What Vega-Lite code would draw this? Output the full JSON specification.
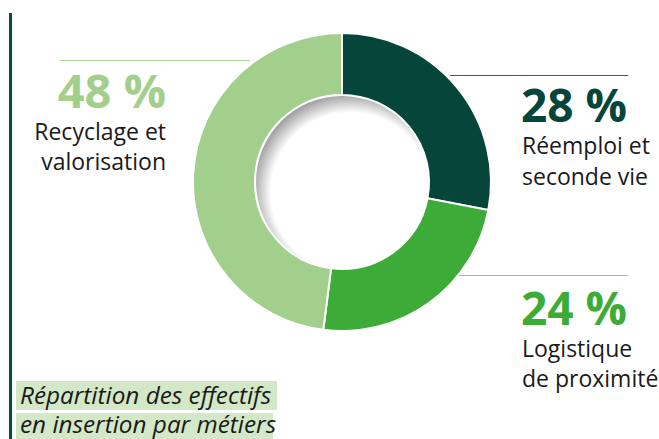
{
  "$schema": "https://vega.github.io/schema/vega-lite/v6.json",
  "width": 634,
  "height": 364,
  "autosize": {"type": "none"},
  "padding": {"left": 25, "top": 0, "right": 0, "bottom": 75},
  "background": "white",
  "config": {"view": {"stroke": null}, "font": "Open Sans"},
  "datasets": {
    "shares": [
      {"cat": "Réemploi et seconde vie", "pct": 28, "rank": 1, "name": ["Réemploi et", "seconde vie"]},
      {"cat": "Logistique de proximité", "pct": 24, "rank": 2, "name": ["Logistique", "de proximité"]},
      {"cat": "Recyclage et valorisation", "pct": 48, "rank": 3, "name": ["Recyclage et", "valorisation"]}
    ],
    "caption": [
      {"line": "Répartition des effectifs", "row": 1},
      {"line": "en insertion par métiers", "row": 2}
    ],
    "blank": [{}]
  },
  "layer": [
    {
      "data": {"name": "blank"},
      "mark": {"type": "rule", "color": "#0c4b3e", "strokeWidth": 3},
      "encoding": {
        "x": {"datum": 10.5, "type": "quantitative", "scale": {"domain": [25, 659], "nice": false, "zero": false}, "axis": null},
        "y": {"datum": 13, "type": "quantitative", "scale": {"domain": [0, 364], "reverse": true, "nice": false, "zero": false}, "axis": null},
        "y2": {"datum": 439}
      }
    },
    {
      "data": {"name": "shares"},
      "mark": {"type": "arc", "innerRadius": 87, "outerRadius": 149, "stroke": "white", "strokeWidth": 2},
      "encoding": {
        "theta": {"field": "pct", "type": "quantitative", "stack": true},
        "order": {"field": "rank", "type": "quantitative"},
        "color": {
          "field": "cat",
          "type": "nominal",
          "scale": {
            "domain": ["Réemploi et seconde vie", "Logistique de proximité", "Recyclage et valorisation"],
            "range": ["#05453a", "#3dab38", "#a3cf8d"]
          },
          "legend": null
        }
      }
    },
    {
      "data": {"name": "blank"},
      "mark": {
        "type": "arc",
        "theta": 0,
        "theta2": 6.2832,
        "innerRadius": 0,
        "outerRadius": 86,
        "color": {
          "gradient": "radial",
          "x1": 0.55, "y1": 0.56, "r1": 0,
          "x2": 0.55, "y2": 0.56, "r2": 0.58,
          "stops": [
            {"offset": 0, "color": "#ffffff"},
            {"offset": 0.8, "color": "#ffffff"},
            {"offset": 1, "color": "#9a9a9a"}
          ]
        }
      },
      "encoding": {}
    },
    {
      "data": {"name": "blank"},
      "mark": {"type": "rule", "color": "#a8d495", "strokeWidth": 1.2},
      "encoding": {
        "x": {"datum": 60, "type": "quantitative", "scale": {"domain": [25, 659], "nice": false, "zero": false}, "axis": null},
        "x2": {"datum": 250},
        "y": {"datum": 60.5, "type": "quantitative", "scale": {"domain": [0, 364], "reverse": true, "nice": false, "zero": false}, "axis": null}
      }
    },
    {
      "data": {"name": "blank"},
      "mark": {"type": "rule", "color": "#2c6454", "strokeWidth": 1.2},
      "encoding": {
        "x": {"datum": 450, "type": "quantitative", "scale": {"domain": [25, 659], "nice": false, "zero": false}, "axis": null},
        "x2": {"datum": 628},
        "y": {"datum": 75.5, "type": "quantitative", "scale": {"domain": [0, 364], "reverse": true, "nice": false, "zero": false}, "axis": null}
      }
    },
    {
      "data": {"name": "blank"},
      "mark": {"type": "rule", "color": "#8fd087", "strokeWidth": 1.2},
      "encoding": {
        "x": {"datum": 459, "type": "quantitative", "scale": {"domain": [25, 659], "nice": false, "zero": false}, "axis": null},
        "x2": {"datum": 628},
        "y": {"datum": 275.5, "type": "quantitative", "scale": {"domain": [0, 364], "reverse": true, "nice": false, "zero": false}, "axis": null}
      }
    },
    {
      "data": {"name": "shares"},
      "transform": [
        {"filter": "datum.rank === 3"},
        {"calculate": "datum.pct + ' %'", "as": "pctText"}
      ],
      "layer": [
        {
          "mark": {"type": "text", "align": "right", "baseline": "alphabetic", "fontSize": 47, "fontWeight": "bold", "color": "#a3cf8d"},
          "encoding": {
            "text": {"field": "pctText"},
            "x": {"datum": 166, "type": "quantitative", "scale": {"domain": [25, 659], "nice": false, "zero": false}, "axis": null},
            "y": {"datum": 108, "type": "quantitative", "scale": {"domain": [0, 364], "reverse": true, "nice": false, "zero": false}, "axis": null}
          }
        },
        {
          "mark": {"type": "text", "align": "right", "baseline": "alphabetic", "fontSize": 23, "lineHeight": 30, "color": "#1a1a1a"},
          "encoding": {
            "text": {"field": "name"},
            "x": {"datum": 166, "type": "quantitative", "scale": {"domain": [25, 659], "nice": false, "zero": false}, "axis": null},
            "y": {"datum": 140, "type": "quantitative", "scale": {"domain": [0, 364], "reverse": true, "nice": false, "zero": false}, "axis": null}
          }
        }
      ]
    },
    {
      "data": {"name": "shares"},
      "transform": [
        {"filter": "datum.rank === 1"},
        {"calculate": "datum.pct + ' %'", "as": "pctText"}
      ],
      "layer": [
        {
          "mark": {"type": "text", "align": "left", "baseline": "alphabetic", "fontSize": 46, "fontWeight": "bold", "color": "#05453a"},
          "encoding": {
            "text": {"field": "pctText"},
            "x": {"datum": 521, "type": "quantitative", "scale": {"domain": [25, 659], "nice": false, "zero": false}, "axis": null},
            "y": {"datum": 122, "type": "quantitative", "scale": {"domain": [0, 364], "reverse": true, "nice": false, "zero": false}, "axis": null}
          }
        },
        {
          "mark": {"type": "text", "align": "left", "baseline": "alphabetic", "fontSize": 23, "lineHeight": 31, "color": "#1a1a1a"},
          "encoding": {
            "text": {"field": "name"},
            "x": {"datum": 522, "type": "quantitative", "scale": {"domain": [25, 659], "nice": false, "zero": false}, "axis": null},
            "y": {"datum": 154, "type": "quantitative", "scale": {"domain": [0, 364], "reverse": true, "nice": false, "zero": false}, "axis": null}
          }
        }
      ]
    },
    {
      "data": {"name": "shares"},
      "transform": [
        {"filter": "datum.rank === 2"},
        {"calculate": "datum.pct + ' %'", "as": "pctText"}
      ],
      "layer": [
        {
          "mark": {"type": "text", "align": "left", "baseline": "alphabetic", "fontSize": 46, "fontWeight": "bold", "color": "#3dab38"},
          "encoding": {
            "text": {"field": "pctText"},
            "x": {"datum": 521, "type": "quantitative", "scale": {"domain": [25, 659], "nice": false, "zero": false}, "axis": null},
            "y": {"datum": 325, "type": "quantitative", "scale": {"domain": [0, 364], "reverse": true, "nice": false, "zero": false}, "axis": null}
          }
        },
        {
          "mark": {"type": "text", "align": "left", "baseline": "alphabetic", "fontSize": 23, "lineHeight": 30, "color": "#1a1a1a"},
          "encoding": {
            "text": {"field": "name"},
            "x": {"datum": 522, "type": "quantitative", "scale": {"domain": [25, 659], "nice": false, "zero": false}, "axis": null},
            "y": {"datum": 357, "type": "quantitative", "scale": {"domain": [0, 364], "reverse": true, "nice": false, "zero": false}, "axis": null}
          }
        }
      ]
    },
    {
      "data": {"name": "blank"},
      "mark": {"type": "rect", "color": "#d3e8c7"},
      "encoding": {
        "x": {"datum": 16, "type": "quantitative", "scale": {"domain": [25, 659], "nice": false, "zero": false}, "axis": null},
        "x2": {"datum": 277},
        "y": {"datum": 381, "type": "quantitative", "scale": {"domain": [0, 364], "reverse": true, "nice": false, "zero": false}, "axis": null},
        "y2": {"datum": 410}
      }
    },
    {
      "data": {"name": "blank"},
      "mark": {"type": "rect", "color": "#d3e8c7"},
      "encoding": {
        "x": {"datum": 16, "type": "quantitative", "scale": {"domain": [25, 659], "nice": false, "zero": false}, "axis": null},
        "x2": {"datum": 273},
        "y": {"datum": 413, "type": "quantitative", "scale": {"domain": [0, 364], "reverse": true, "nice": false, "zero": false}, "axis": null},
        "y2": {"datum": 440}
      }
    },
    {
      "data": {"name": "caption"},
      "transform": [{"filter": "datum.row === 1"}],
      "mark": {"type": "text", "align": "left", "baseline": "alphabetic", "fontSize": 24.3, "fontStyle": "italic", "color": "#1a1a1a"},
      "encoding": {
        "text": {"field": "line"},
        "x": {"datum": 20, "type": "quantitative", "scale": {"domain": [25, 659], "nice": false, "zero": false}, "axis": null},
        "y": {"datum": 404, "type": "quantitative", "scale": {"domain": [0, 364], "reverse": true, "nice": false, "zero": false}, "axis": null}
      }
    },
    {
      "data": {"name": "caption"},
      "transform": [{"filter": "datum.row === 2"}],
      "mark": {"type": "text", "align": "left", "baseline": "alphabetic", "fontSize": 24.3, "fontStyle": "italic", "color": "#1a1a1a"},
      "encoding": {
        "text": {"field": "line"},
        "x": {"datum": 20, "type": "quantitative", "scale": {"domain": [25, 659], "nice": false, "zero": false}, "axis": null},
        "y": {"datum": 433, "type": "quantitative", "scale": {"domain": [0, 364], "reverse": true, "nice": false, "zero": false}, "axis": null}
      }
    }
  ]
}
